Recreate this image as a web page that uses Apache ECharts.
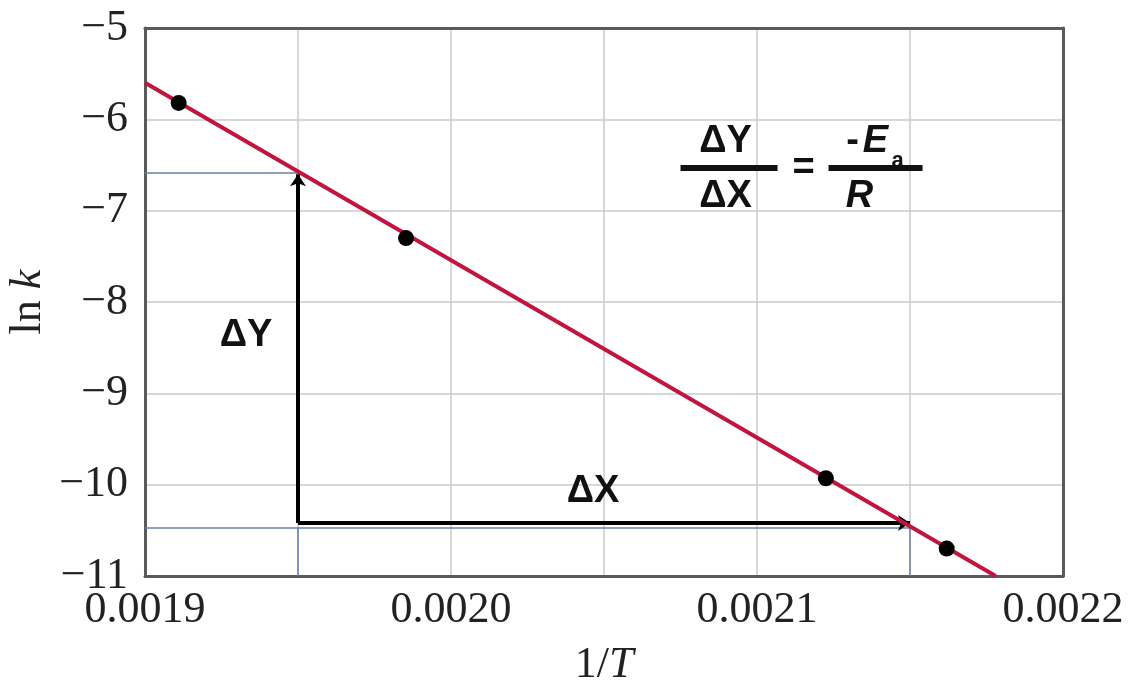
<!DOCTYPE html>
<html>
<head>
<meta charset="utf-8">
<script src="https://cdn.jsdelivr.net/npm/echarts@6/dist/echarts.min.js"></script>
<style>
html,body{margin:0;padding:0;background:#fff;}
#chart{width:1141px;height:684px;}
</style>
</head>
<body>
<div id="chart"></div>
<script>
// ---- data ----
const pointX = [0.001911, 0.0019853, 0.0021225, 0.002162];
const pointY = [-5.82, -7.30, -9.93, -10.70];
const fitX = [0.0019, 0.002178];
const fitY = [-5.60, -11.0];
// slope triangle (ΔX / ΔY construction)
const triX = [0.00195, 0.00215];
const triYTop = -6.60;
const triYBase = -10.42;
const guideYBase = -10.47;
const guideYTop = -6.59;
// annotation labels
const annoText = ['ΔY', 'ΔX'];
const annoX = [0.001933, 0.0020464];
const annoY = [-8.37, -10.07];
// formula anchor
const formulaX = 0.0020907;
const formulaY = -6.533;
// axis settings
const xMin = 0.0019, xMax = 0.0022, xStep = 0.00005;
const yMin = -11, yMax = -5, yStep = 1;

const serif = 'Liberation Serif';
const sans = 'Liberation Sans';
const chart = echarts.init(document.getElementById('chart'));

const seg = (a, b) => [a, b];
const border = {show: true, onZero: false, lineStyle: {color: '#5a5a5a', width: 3}};

chart.setOption({
  animation: false,
  backgroundColor: '#fff',
  grid: {
    left: 145, right: 78, top: 28, bottom: 108,
    outerBoundsMode: 'none', containLabel: false,
    show: false
  },
  xAxis: [{
    type: 'value', min: xMin, max: xMax, interval: xStep,
    axisLine: border, axisTick: {show: false},
    splitLine: {show: true, showMinLine: false, showMaxLine: false, lineStyle: {color: '#cbcbcb', width: 1.5}},
    axisLabel: {
      margin: 12, color: '#222', fontFamily: serif, fontSize: 44,
      formatter: v => (Math.round(v / xStep) % 2 === 0 ? v.toFixed(4) : '')
    },
    name: '{r|1/}{i|T}', nameLocation: 'middle', nameGap: 67, nameMoveOverlap: false,
    nameTextStyle: {
      rich: {
        r: {fontFamily: serif, fontSize: 44, color: '#222'},
        i: {fontFamily: serif, fontStyle: 'italic', fontSize: 44, color: '#222'}
      }
    }
  }, {
    type: 'value', position: 'top', min: xMin, max: xMax, interval: xStep,
    axisLine: border, axisTick: {show: false}, axisLabel: {show: false}, splitLine: {show: false}
  }],
  yAxis: [{
    type: 'value', min: yMin, max: yMax, interval: yStep,
    axisLine: border, axisTick: {show: false},
    splitLine: {show: true, showMinLine: false, showMaxLine: false, lineStyle: {color: '#cbcbcb', width: 1.5}},
    axisLabel: {
      margin: 17, color: '#222', fontFamily: serif, fontSize: 44,
      formatter: v => (v < 0 ? '\u2212' + Math.abs(v) : String(v))
    },
    name: '{r|ln }{i|k}', nameLocation: 'middle', nameGap: 95, nameRotate: 90, nameMoveOverlap: false,
    nameTextStyle: {
      rich: {
        r: {fontFamily: serif, fontSize: 44, color: '#222'},
        i: {fontFamily: serif, fontStyle: 'italic', fontSize: 44, color: '#222'}
      }
    }
  }, {
    type: 'value', position: 'right', min: yMin, max: yMax, interval: yStep,
    axisLine: border, axisTick: {show: false}, axisLabel: {show: false}, splitLine: {show: false}
  }],
  series: [
    {
      name: 'guides', type: 'lines', coordinateSystem: 'cartesian2d', z: 2,
      lineStyle: {color: '#6a80a8', width: 1.5, opacity: 1, curveness: 0},
      symbol: 'none', silent: true,
      data: [
        {coords: seg([xMin, guideYTop], [triX[0], guideYTop])},
        {coords: seg([xMin, guideYBase], [triX[1], guideYBase])},
        {coords: seg([triX[0], yMin], [triX[0], guideYBase])},
        {coords: seg([triX[1], yMin], [triX[1], guideYBase])}
      ]
    },
    {
      name: 'arrows', type: 'lines', coordinateSystem: 'cartesian2d', z: 3,
      lineStyle: {color: '#000', width: 4, opacity: 1, curveness: 0},
      symbol: ['none', 'arrow'], symbolSize: 12, silent: true,
      data: [
        {coords: seg([triX[0], triYBase], [triX[0], triYTop])},
        {coords: seg([triX[0], triYBase], [triX[1], triYBase])}
      ]
    },
    {
      name: 'fit', type: 'line', z: 4, clip: true,
      data: fitX.map((x, i) => [x, fitY[i]]),
      symbol: 'none', lineStyle: {color: '#c1153f', width: 4}
    },
    {
      name: 'data', type: 'scatter', z: 5,
      data: pointX.map((x, i) => [x, pointY[i]]),
      symbolSize: 16, itemStyle: {color: '#000', opacity: 1}
    },
    {
      name: 'labels', type: 'scatter', z: 6, silent: true,
      data: annoX.map((x, i) => ({value: [x, annoY[i]], name: annoText[i]})),
      symbolSize: 1, itemStyle: {color: 'rgba(0,0,0,0)', opacity: 1},
      label: {
        show: true, position: 'inside', formatter: p => p.name,
        fontFamily: sans, fontWeight: 'bold', fontSize: 38, color: '#111', opacity: 1
      }
    }
  ]
});

const p = chart.convertToPixel({xAxisIndex: 0, yAxisIndex: 0}, [formulaX, formulaY]);
const f = (txt, x, y, font) => ({
  type: 'text', x: x, y: y,
  style: {text: txt, font: font, fill: '#111', align: 'center', verticalAlign: 'middle'}
});
const B = 'bold 38px ' + sans;
const BI = 'italic bold 38px ' + sans;
chart.setOption({
  graphic: [{
    type: 'group', x: p[0], y: p[1], z: 10,
    children: [
      {type: 'rect', shape: {x: -48, y: -3, width: 97, height: 6}, style: {fill: '#111'}},
      f('ΔY', -3, -26, B),
      f('ΔX', -3, 29, B),
      f('=', 75, 1, B),
      {type: 'rect', shape: {x: 100, y: -3, width: 94, height: 6}, style: {fill: '#111'}},
      f('-', 124, -26, B),
      f('E', 147, -26, BI),
      f('a', 169, -7, 'bold 22px ' + sans),
      f('R', 131, 29, BI)
    ]
  }]
});
</script>
</body>
</html>
